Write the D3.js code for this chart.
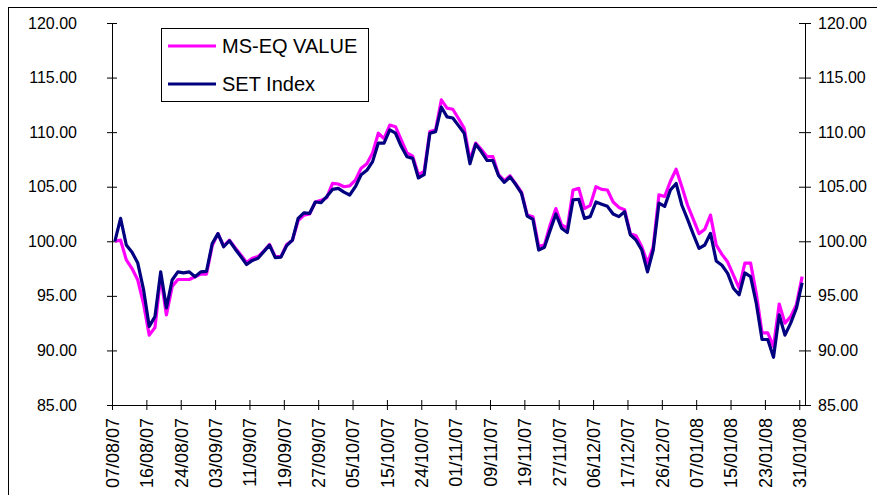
<!DOCTYPE html>
<html>
<head>
<meta charset="utf-8">
<script src="https://cdn.jsdelivr.net/npm/d3@7"></script>
<style>
  body { margin: 0; background: #fff; }
  svg text { font-family: "Liberation Sans", Arial, sans-serif; fill: #000; }
</style>
</head>
<body>
<div id="svg-area"></div>
<script>
var svgWidth = 877;
var svgHeight = 495;

// plot area edges (pixels)
var plot = { left: 112, right: 805, top: 23, bottom: 405 };

// one label every 6 trading days
var tickLabels = ["07/08/07", "16/08/07", "24/08/07", "03/09/07", "11/09/07", "19/09/07",
  "27/09/07", "05/10/07", "15/10/07", "24/10/07", "01/11/07", "09/11/07", "19/11/07",
  "27/11/07", "06/12/07", "17/12/07", "26/12/07", "07/01/08", "15/01/08", "23/01/08", "31/01/08"];

var yTicks = [85, 90, 95, 100, 105, 110, 115, 120];

var seriesNames = ["MS-EQ VALUE", "SET Index"];
var seriesColors = ["#ff00ff", "#000080"];

var msEqValue = [
  100.0, 100.1, 98.3, 97.5, 96.45, 94.3, 91.4, 92.1, 96.8, 93.25,
  95.85, 96.5, 96.5, 96.5, 96.75, 97.0, 97.0, 99.6, 100.7, 99.55,
  100.1, 99.4, 98.75, 98.05, 98.45, 98.6, 99.1, 99.7, 98.6, 98.6,
  99.7, 100.1, 101.9, 102.4, 102.5, 103.6, 103.75, 104.0, 105.3, 105.25,
  105.0, 105.07, 105.6, 106.7, 107.1, 108.1, 109.9, 109.4, 110.65, 110.5,
  109.3, 108.1, 107.8, 106.1, 106.4, 110.05, 110.2, 112.95, 112.2, 112.1,
  111.25, 110.35, 107.45, 109.0, 108.4, 107.75, 107.75, 106.1, 105.55, 106.0,
  105.25, 104.5, 102.4, 102.25, 99.55, 99.65, 101.5, 103.0, 101.5, 101.2,
  104.7, 104.85, 103.0, 103.3, 105.0, 104.76, 104.7, 103.6, 103.1, 102.9,
  100.7, 100.5, 99.5, 98.0, 99.5, 104.25, 104.1, 105.5, 106.6, 105.0,
  103.3, 102.0, 100.7, 101.1, 102.4, 99.66, 98.8, 98.1, 96.9, 95.7,
  98.0, 98.0, 95.2, 91.6, 91.6, 90.35, 94.25, 92.5, 93.1, 94.2,
  96.76
];

var setIndex = [
  100.0, 102.1, 99.66, 99.0, 98.0, 95.6, 92.2, 93.1, 97.2, 93.9,
  96.45, 97.2, 97.1, 97.2, 96.75, 97.2, 97.25, 99.8, 100.7, 99.5,
  100.05, 99.3, 98.6, 97.87, 98.25, 98.45, 99.05, 99.65, 98.5, 98.55,
  99.6, 100.1, 102.1, 102.6, 102.55, 103.6, 103.55, 104.1, 104.75, 104.85,
  104.5, 104.24, 105.0, 106.1, 106.5, 107.3, 109.0, 109.0, 110.2, 109.9,
  108.7, 107.75, 107.6, 105.8, 106.1, 109.9, 110.05, 112.3, 111.4, 111.3,
  110.6, 109.9, 107.1, 108.9, 108.2, 107.4, 107.4, 106.0, 105.4, 105.9,
  105.2, 104.4, 102.3, 102.0, 99.2, 99.45, 101.0, 102.5, 101.2, 100.8,
  103.8, 103.85, 102.1, 102.26, 103.6, 103.4, 103.2, 102.5, 102.26, 102.7,
  100.6, 100.1, 99.2, 97.2, 99.2, 103.5, 103.2, 104.7, 105.3, 103.3,
  102.0, 100.64, 99.36, 99.66, 100.73, 98.2, 97.8, 97.06, 95.7, 95.1,
  97.1, 96.76, 94.3, 91.0, 91.0, 89.37, 93.25, 91.4, 92.5, 93.86,
  96.2
];

var nPoints = setIndex.length;

var svg = d3.select("#svg-area").append("svg")
  .attr("width", svgWidth)
  .attr("height", svgHeight);

// outer chart border (runs off the right and bottom edge)
svg.append("rect")
  .attr("x", 8.5).attr("y", 7.5)
  .attr("width", 900).attr("height", 520)
  .attr("fill", "none")
  .attr("stroke", "#000")
  .attr("stroke-width", 1);

// category slots; points sit in the middle of each slot
var xScale = d3.scaleLinear()
  .domain([0, nPoints])
  .range([plot.left, plot.right]);

var yScale = d3.scaleLinear()
  .domain([85, 120])
  .range([plot.bottom, plot.top]);

// left axis
var yAxisLeft = d3.axisLeft(yScale)
  .tickValues(yTicks)
  .tickFormat(d3.format(".2f"))
  .tickSizeOuter(0)
  .tickSize(5);

var gLeft = svg.append("g")
  .attr("transform", `translate(${plot.left}, 0)`)
  .call(yAxisLeft);

gLeft.selectAll(".tick line").attr("x1", -5).attr("x2", 5);
gLeft.selectAll(".tick text").attr("x", -35).style("font-size", "16px");

// right axis
var yAxisRight = d3.axisRight(yScale)
  .tickValues(yTicks)
  .tickFormat(d3.format(".2f"))
  .tickSizeOuter(0)
  .tickSize(5);

var gRight = svg.append("g")
  .attr("transform", `translate(${plot.right}, 0)`)
  .call(yAxisRight);

gRight.selectAll(".tick line").attr("x1", -6).attr("x2", 6);
gRight.selectAll(".tick text").attr("x", 13).style("font-size", "16px");

// bottom axis, tick every 6 categories
var xAxis = d3.axisBottom(xScale)
  .tickValues(d3.range(0, nPoints, 6))
  .tickFormat(function(d, i) { return tickLabels[i]; })
  .tickSizeOuter(0)
  .tickSize(5);

var gBottom = svg.append("g")
  .attr("transform", `translate(0, ${plot.bottom})`)
  .call(xAxis);

gBottom.select(".domain").attr("d", `M${plot.left},0.5H${plot.right}`);
gBottom.selectAll(".tick line").attr("y1", -5).attr("y2", 5);
gBottom.selectAll(".tick text")
  .attr("transform", "rotate(-90)")
  .attr("x", -13)
  .attr("y", 0)
  .attr("dy", "0.35em")
  .attr("text-anchor", "end")
  .style("font-size", "18px");

svg.selectAll(".domain, .tick line").attr("stroke", "#000");

// lines
var line = d3.line()
  .x(function(d, i) { return xScale(i + 0.5); })
  .y(function(d) { return yScale(d); });

[msEqValue, setIndex].forEach(function(values, k) {
  svg.append("path")
    .datum(values)
    .attr("d", line)
    .attr("fill", "none")
    .attr("stroke", seriesColors[k])
    .attr("stroke-width", 3.2)
    .attr("stroke-linejoin", "round");
});

// legend
var legend = svg.append("g");
legend.append("rect")
  .attr("x", 161.5).attr("y", 28.5)
  .attr("width", 207).attr("height", 73)
  .attr("fill", "#fff")
  .attr("stroke", "#000");

seriesNames.forEach(function(name, k) {
  var ly = 46 + k * 38;
  legend.append("line")
    .attr("x1", 168).attr("x2", 216)
    .attr("y1", ly).attr("y2", ly)
    .attr("stroke", seriesColors[k])
    .attr("stroke-width", 3);
  legend.append("text")
    .attr("x", 222).attr("y", ly)
    .attr("dy", "0.36em")
    .style("font-size", "20px")
    .text(name);
});
</script>
</body>
</html>
